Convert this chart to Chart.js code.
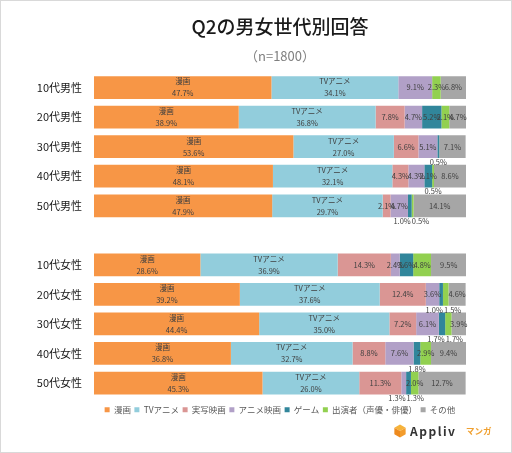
<!DOCTYPE html>
<html>
<head>
<meta charset="utf-8">
<script src="https://cdn.jsdelivr.net/npm/chart.js@4.4.0/dist/chart.umd.min.js"></script>
<style>
    html, body { margin: 0; padding: 0; background: #fff; }
    #frame { width: 510px; height: 451px; border: 1px solid #d9d9d9; position: relative; }
    #chart { display: block; }
</style>
</head>
<body>
<div id="frame"><canvas id="chart" width="510" height="451"></canvas></div>
<script>
    // categories (the empty one is the gap between male / female groups)
    var categories = ["10代男性", "20代男性", "30代男性", "40代男性", "50代男性", "", "10代女性", "20代女性", "30代女性", "40代女性", "50代女性"];
    var seriesNames = ["漫画", "TVアニメ", "実写映画", "アニメ映画", "ゲーム", "出演者（声優・俳優）", "その他"];

    var manga      = [47.7, 38.9, 53.6, 48.1, 47.9, null, 28.6, 39.2, 44.4, 36.8, 45.3];
    var tvAnime    = [34.1, 36.8, 27.0, 32.1, 29.7, null, 36.9, 37.6, 35.0, 32.7, 26.0];
    var liveAction = [0, 7.8, 6.6, 4.3, 2.1, null, 14.3, 12.4, 7.2, 8.8, 11.3];
    var animeFilm  = [9.1, 4.7, 5.1, 4.3, 4.7, null, 2.4, 3.6, 6.1, 7.6, 1.3];
    var game       = [0, 5.2, 0.5, 2.1, 1.0, null, 3.6, 1.0, 1.7, 1.8, 1.3];
    var cast       = [2.3, 2.1, 0, 0.5, 0.5, null, 4.8, 1.5, 1.7, 2.9, 2.0];
    var other      = [6.8, 4.7, 7.1, 8.6, 14.1, null, 9.5, 4.6, 3.9, 9.4, 12.7];

    var colors = ["#F79646", "#92CDDC", "#DA9694", "#B1A0C7", "#31869B", "#92D050", "#A6A6A6"];
    var allSeries = [manga, tvAnime, liveAction, animeFilm, game, cast, other];

    var FONT = '"Noto Sans CJK JP", "Noto Sans", sans-serif';
    Chart.defaults.font.family = FONT;

    // value labels: inside for >= 2%, below the bar for the small ones
    var barLabels = {
        id: "barLabels",
        afterDatasetsDraw: function (chart) {
            var ctx = chart.ctx;
            ctx.save();
            ctx.font = "7.5px " + FONT;
            ctx.fillStyle = "#404040";
            ctx.textAlign = "center";
            ctx.textBaseline = "middle";
            var below = {};
            chart.data.datasets.forEach(function (ds, di) {
                var meta = chart.getDatasetMeta(di);
                meta.data.forEach(function (bar, i) {
                    var v = ds.data[i];
                    if (!v) return;
                    var p = bar.getProps(["x", "y", "base", "height"], true);
                    var cx = (p.x + p.base) / 2;
                    var txt = v.toFixed(1) + "%";
                    if (v < 2) {
                        (below[i] = below[i] || []).push({ x: cx, y: p.y + p.height / 2 + 4, txt: txt, w: ctx.measureText(txt).width });
                        return;
                    }
                    if (di < 2) {
                        ctx.fillText(ds.label, cx, p.y - 6);
                        ctx.fillText(txt, cx, p.y + 6);
                    } else {
                        ctx.fillText(txt, cx, p.y);
                    }
                });
            });
            Object.keys(below).forEach(function (k) {
                var list = below[k].sort(function (a, b) { return a.x - b.x; });
                for (var j = 1; j < list.length; j++) {
                    var need = (list[j - 1].w + list[j].w) / 2 + 1;
                    var gap = list[j].x - list[j - 1].x;
                    if (gap < need) {
                        list[j - 1].x -= (need - gap) / 2;
                        list[j].x += (need - gap) / 2;
                    }
                }
                list.forEach(function (l) { ctx.fillText(l.txt, l.x, l.y); });
            });
            ctx.restore();
        }
    };

    // Appliv logo in the bottom right corner
    var logo = {
        id: "logo",
        afterDraw: function (chart) {
            var ctx = chart.ctx;
            ctx.save();
            var cx = 399, cy = 430, r = 6.5;
            ctx.fillStyle = "#F6B33A";
            ctx.beginPath();
            ctx.moveTo(cx, cy - r); ctx.lineTo(cx + r * 0.87, cy - r / 2); ctx.lineTo(cx, cy); ctx.lineTo(cx - r * 0.87, cy - r / 2);
            ctx.closePath(); ctx.fill();
            ctx.fillStyle = "#EE8A1E";
            ctx.beginPath();
            ctx.moveTo(cx - r * 0.87, cy - r / 2); ctx.lineTo(cx, cy); ctx.lineTo(cx, cy + r); ctx.lineTo(cx - r * 0.87, cy + r / 2);
            ctx.closePath(); ctx.fill();
            ctx.fillStyle = "#F39C2C";
            ctx.beginPath();
            ctx.moveTo(cx + r * 0.87, cy - r / 2); ctx.lineTo(cx, cy); ctx.lineTo(cx, cy + r); ctx.lineTo(cx + r * 0.87, cy + r / 2);
            ctx.closePath(); ctx.fill();
            ctx.textBaseline = "middle";
            ctx.textAlign = "left";
            ctx.fillStyle = "#333";
            ctx.font = "bold 12px " + FONT;
            ctx.letterSpacing = "1.5px";
            ctx.fillText("Appliv", 409, cy);
            ctx.fillStyle = "#F0A030";
            ctx.font = "bold 8.5px " + FONT;
            ctx.letterSpacing = "0px";
            ctx.fillText("マンガ", 465, cy);
            ctx.restore();
        }
    };

    var datasets = seriesNames.map(function (name, i) {
        return {
            label: name,
            data: allSeries[i],
            backgroundColor: colors[i],
            borderWidth: 0,
            barPercentage: 0.77,
            categoryPercentage: 1.0
        };
    });

    new Chart(document.getElementById("chart"), {
        type: "bar",
        data: { labels: categories, datasets: datasets },
        options: {
            indexAxis: "y",
            responsive: false,
            animation: false,
            layout: { padding: { left: 0, right: 45, top: 0, bottom: 28 } },
            scales: {
                x: { stacked: true, min: 0, max: 100, display: false },
                y: {
                    stacked: true,
                    grid: { display: false, drawTicks: false },
                    border: { display: false },
                    ticks: { color: "#1a1a1a", font: { size: 11 }, padding: 12 },
                    afterFit: function (s) { s.width = 93; }
                }
            },
            plugins: {
                tooltip: { enabled: false },
                title: {
                    display: true,
                    text: "Q2の男女世代別回答",
                    fullSize: false,
                    color: "#1a1a1a",
                    font: { size: 19, weight: "500" },
                    padding: { top: 14, bottom: 0 }
                },
                subtitle: {
                    display: true,
                    text: "（n=1800）",
                    fullSize: false,
                    color: "#7f7f7f",
                    font: { size: 13 },
                    padding: { top: 10, bottom: 9.4 }
                },
                legend: {
                    position: "bottom",
                    fullSize: false,
                    title: { display: true, text: "", font: { size: 1 }, padding: { top: 3, bottom: 0 } },
                    labels: {
                        boxWidth: 5,
                        boxHeight: 5,
                        color: "#595959",
                        font: { size: 8.5 },
                        padding: 3.5
                    }
                }
            }
        },
        plugins: [barLabels, logo]
    });
</script>
</body>
</html>
